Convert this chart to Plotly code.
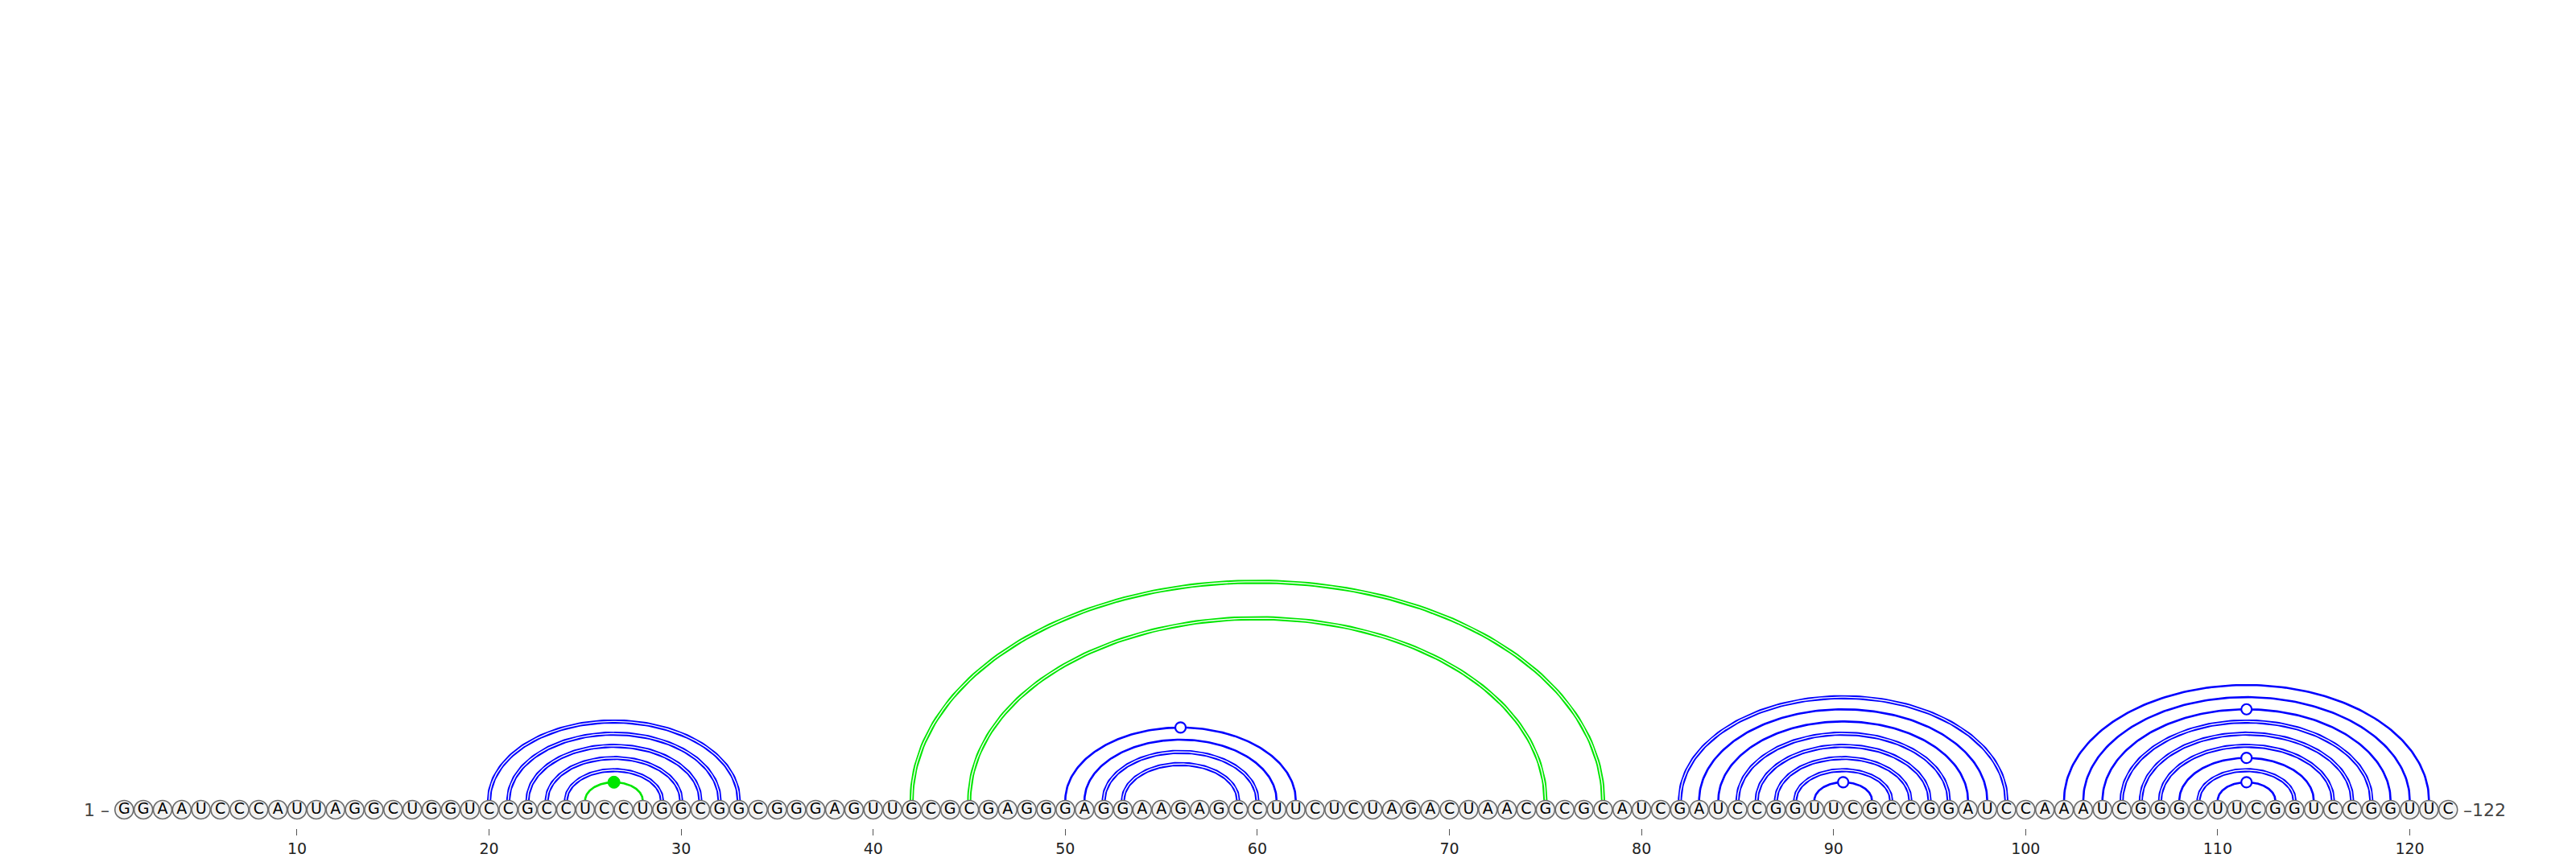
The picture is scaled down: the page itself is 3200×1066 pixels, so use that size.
import numpy as np
import plotly.graph_objects as go

# RNA sequence (positions 1..122)
sequence = ("GGAAUCCCAU" "UAGGCUGGUC" "CGCCUCCUGG" "CGGCGGGAGU" "UGCGCGAGGG"
            "AGGAAGAGCC" "UUCUCUAGAC" "UAACGCGCAU" "CGAUCCGGUU" "CGCCGGAUCC"
            "AAAUCGGGCU" "UCGGUCCGGU" "UC")

# base pairs (5' side, 3' side) and the helix colour group
pair_i = [20, 21, 22, 23, 24, 25,
          42, 45,
          50, 51, 52, 53,
          82, 83, 84, 85, 86, 87, 88, 89,
          102, 103, 104, 105, 106, 107, 108, 109, 110]
pair_j = [33, 32, 31, 30, 29, 28,
          78, 75,
          62, 61, 60, 59,
          99, 98, 97, 96, 95, 94, 93, 92,
          121, 120, 119, 118, 117, 116, 115, 114, 113]
pair_group = ["blue"] * 5 + ["green"] + ["green", "green"] + ["blue"] * 4 + ["blue"] * 8 + ["blue"] * 9

tick_vals = [10, 20, 30, 40, 50, 60, 70, 80, 90, 100, 110, 120]

colors = {"blue": "#0000ff", "green": "#00e600"}
R = 11.5          # nucleotide circle radius (px, y units are px above baseline)
H_PER_NT = 7.55   # arc height per nucleotide of span

def pair_kind(a, b):
    p = a + b
    if p in ("GC", "CG"):
        return "gc"
    if p in ("AU", "UA"):
        return "au"
    if p in ("GU", "UG"):
        return "gu"
    return "nc"

fig = go.Figure()

t = np.linspace(0, np.pi, 140)
apex = {}
for grp in ["blue", "green"]:
    for kind in ["gc", "single"]:
        xs, ys = [], []
        for i, j, g in zip(pair_i, pair_j, pair_group):
            if g != grp:
                continue
            k = pair_kind(sequence[i - 1], sequence[j - 1])
            if (kind == "gc") != (k == "gc"):
                continue
            cx, rx = (i + j) / 2, (j - i) / 2
            h = H_PER_NT * (j - i)
            xs += list(cx + rx * np.cos(t)) + [None]
            ys += list(R + h * np.sin(t)) + [None]
            apex[(i, j)] = (cx, R + h, k, g)
        if not xs:
            continue
        if kind == "gc":
            # double line: thick colour stroke with a thin white core
            fig.add_trace(go.Scatter(x=xs, y=ys, mode="lines", hoverinfo="skip",
                                     line=dict(color=colors[grp], width=5.2)))
            fig.add_trace(go.Scatter(x=xs, y=ys, mode="lines", hoverinfo="skip",
                                     line=dict(color="white", width=1.4)))
        else:
            fig.add_trace(go.Scatter(x=xs, y=ys, mode="lines", hoverinfo="skip",
                                     line=dict(color=colors[grp], width=2.6)))

# markers for wobble (open) and non-canonical (filled) pairs
for (i, j), (cx, cy, k, g) in apex.items():
    if k == "gu":
        fig.add_trace(go.Scatter(x=[cx], y=[cy], mode="markers", hoverinfo="skip",
                                 marker=dict(size=13, color="white",
                                             line=dict(color=colors[g], width=2.2))))
    elif k == "nc":
        fig.add_trace(go.Scatter(x=[cx], y=[cy], mode="markers", hoverinfo="skip",
                                 marker=dict(size=15, color=colors[g],
                                             line=dict(color=colors[g], width=1))))

positions = list(range(1, len(sequence) + 1))
fig.add_trace(go.Scatter(
    x=positions, y=[0] * len(positions), mode="markers+text",
    text=list(sequence), textposition="middle center",
    textfont=dict(family="DejaVu Sans", size=19, color="black"),
    marker=dict(size=23, color="#f2f2f2", line=dict(color="#6a6a6a", width=1.6)),
    hoverinfo="skip"))

fig.add_annotation(x=0.3, y=0, text="1 \u2013", showarrow=False, xanchor="right",
                   font=dict(family="DejaVu Sans", size=22, color="#444444"))
fig.add_annotation(x=len(sequence) + 0.7, y=0, text="\u2013122", showarrow=False,
                   xanchor="left",
                   font=dict(family="DejaVu Sans", size=22, color="#444444"))

fig.update_layout(
    width=3200, height=1066,
    margin=dict(l=0, r=0, t=0, b=45),
    plot_bgcolor="white", paper_bgcolor="white",
    showlegend=False,
    xaxis=dict(range=[-5.13, 128.99], showgrid=False, zeroline=False, showline=False,
               tickvals=tick_vals, ticks="outside", ticklen=8, tickwidth=1.2,
               tickcolor="#555555", automargin=False,
               tickfont=dict(family="DejaVu Sans", size=19, color="#222222")),
    yaxis=dict(range=[-23, 998], showgrid=False, zeroline=False, showline=False,
               showticklabels=False, automargin=False),
)

fig.write_html("out.html")
